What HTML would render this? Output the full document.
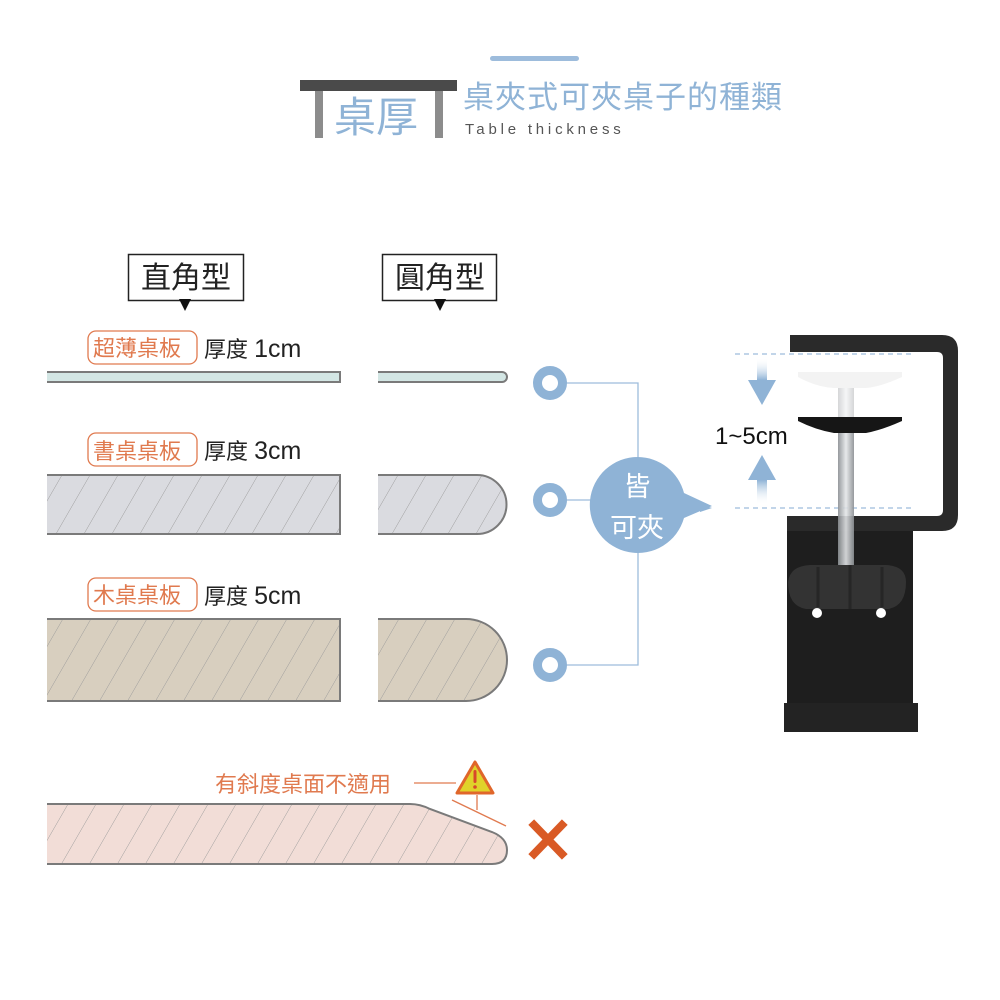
<!DOCTYPE html>
<html><head><meta charset="utf-8"><style>
html,body{margin:0;padding:0;background:#fff}
svg{display:block}
text{font-family:"Liberation Sans","Noto Sans CJK TC",sans-serif}
</style></head><body>
<svg width="1000" height="1000" viewBox="0 0 1000 1000" xmlns="http://www.w3.org/2000/svg">
<defs>
<pattern id="h" width="28" height="200" patternUnits="userSpaceOnUse" patternTransform="skewX(-30)">
<line x1="0" y1="0" x2="0" y2="200" stroke="#9a9a9a" stroke-width="1"/>
</pattern>
<linearGradient id="ad" x1="0" y1="0" x2="0" y2="1"><stop offset="0" stop-color="#fff" stop-opacity="0"/><stop offset="1" stop-color="#8fb3d6"/></linearGradient>
<linearGradient id="au" x1="0" y1="1" x2="0" y2="0"><stop offset="0" stop-color="#fff" stop-opacity="0"/><stop offset="1" stop-color="#8fb3d6"/></linearGradient>
<linearGradient id="sc" x1="0" y1="0" x2="1" y2="0"><stop offset="0" stop-color="#8a8e92"/><stop offset="0.5" stop-color="#e4e6e8"/><stop offset="1" stop-color="#8a8e92"/></linearGradient>
</defs>

<!-- header -->
<rect x="490" y="56" width="89" height="5" rx="2.5" fill="#9dbcdc"/>
<rect x="300" y="80" width="157" height="11" fill="#4a4a4a"/>
<rect x="315" y="91" width="8" height="47" fill="#8c8c8c"/>
<rect x="435" y="91" width="8" height="47" fill="#8c8c8c"/>
<text x="334" y="132" font-size="42" fill="#8fb3d6">桌厚</text>
<text x="463" y="108" font-size="31" fill="#8fb3d6" letter-spacing="1">桌夾式可夾桌子的種類</text>
<text x="465" y="134" font-size="15" fill="#555" letter-spacing="3.8">Table thickness</text>

<!-- type boxes -->
<rect x="128.5" y="254.5" width="115" height="46" fill="#fff" stroke="#222" stroke-width="1.5"/>
<text x="186" y="288" font-size="30" fill="#222" text-anchor="middle">直角型</text>
<polygon points="179,299 191,299 185,311" fill="#111"/>
<rect x="382.5" y="254.5" width="114" height="46" fill="#fff" stroke="#222" stroke-width="1.5"/>
<text x="440" y="288" font-size="30" fill="#222" text-anchor="middle">圓角型</text>
<polygon points="434,299 446,299 440,311" fill="#111"/>

<!-- labels -->
<g font-size="22">
<rect x="88" y="331" width="109" height="33" rx="8" fill="none" stroke="#e07a4f" stroke-width="1.3"/>
<text x="93" y="356" fill="#e07a4f">超薄桌板</text>
<text x="204" y="357" fill="#222">厚度 <tspan font-size="25">1cm</tspan></text>
<rect x="88" y="433" width="109" height="33" rx="8" fill="none" stroke="#e07a4f" stroke-width="1.3"/>
<text x="93" y="459" fill="#e07a4f">書桌桌板</text>
<text x="204" y="459" fill="#222">厚度 <tspan font-size="25">3cm</tspan></text>
<rect x="88" y="578" width="109" height="33" rx="8" fill="none" stroke="#e07a4f" stroke-width="1.3"/>
<text x="93" y="603" fill="#e07a4f">木桌桌板</text>
<text x="204" y="604" fill="#222">厚度 <tspan font-size="25">5cm</tspan></text>
</g>

<g stroke="#7a7a7a" stroke-width="2">
<path d="M47 372 H340 V382 H47" fill="#d3e6e4"/>
<path d="M378 372 H502 A5 5 0 0 1 502 382 H378" fill="#d3e6e4"/>
<path d="M47 475 H340 V534 H47 Z" fill="#dadbe0" stroke="none"/>
<path d="M47 475 H340 V534 H47 Z" fill="url(#h)" stroke="none"/>
<path d="M47 475 H340 V534 H47" fill="none"/>
<path d="M378 475 H477 A29.5 29.5 0 0 1 477 534 H378 Z" fill="#dadbe0" stroke="none"/>
<path d="M378 475 H477 A29.5 29.5 0 0 1 477 534 H378 Z" fill="url(#h)" stroke="none"/>
<path d="M378 475 H477 A29.5 29.5 0 0 1 477 534 H378" fill="none"/>
<path d="M47 619 H340 V701 H47 Z" fill="#d8cfbf" stroke="none"/>
<path d="M47 619 H340 V701 H47 Z" fill="url(#h)" stroke="none"/>
<path d="M47 619 H340 V701 H47" fill="none"/>
<path d="M378 619 H466 A41 41 0 0 1 466 701 H378 Z" fill="#d8cfbf" stroke="none"/>
<path d="M378 619 H466 A41 41 0 0 1 466 701 H378 Z" fill="url(#h)" stroke="none"/>
<path d="M378 619 H466 A41 41 0 0 1 466 701 H378" fill="none"/>
<path d="M47 804 H410 Q420 804 430 809 L492 832 Q507 838 507 850 Q507 864 492 864 H47 Z" fill="#f2ddd7" stroke="none"/>
<path d="M47 804 H410 Q420 804 430 809 L492 832 Q507 838 507 850 Q507 864 492 864 H47 Z" fill="url(#h)" stroke="none"/>
<path d="M47 804 H410 Q420 804 430 809 L492 832 Q507 838 507 850 Q507 864 492 864 H47" fill="none"/>
</g>

<!-- connectors -->
<g stroke="#9dbcdc" stroke-width="1.3" fill="none">
<path d="M560 383 H638 V665 H560"/>
<path d="M560 500 H600"/>
</g>
<g fill="#fff" stroke="#8fb3d6" stroke-width="9">
<circle cx="550" cy="383" r="12.5"/>
<circle cx="550" cy="500" r="12.5"/>
<circle cx="550" cy="665" r="12.5"/>
</g>
<path d="M638 457 A48 48 0 0 1 684 493 L712 506 L684 518 A48 48 0 1 1 638 457 Z" fill="#8fb3d6"/>
<text x="637" y="496" font-size="27" fill="#fff" text-anchor="middle">皆</text>
<text x="637" y="537" font-size="27" fill="#fff" text-anchor="middle">可夾</text>

<!-- warning -->
<text x="215" y="792" font-size="22" fill="#e07a4f">有斜度桌面不適用</text>
<line x1="414" y1="783" x2="456" y2="783" stroke="#e07a4f" stroke-width="1.3"/>
<line x1="477" y1="795" x2="477" y2="810" stroke="#e07a4f" stroke-width="1.3"/>
<line x1="452" y1="800" x2="506" y2="826" stroke="#e07a4f" stroke-width="1.3"/>
<path d="M475 762 L493 793 H457 Z" fill="#e0d22a" stroke="#e0662a" stroke-width="3" stroke-linejoin="round"/>
<rect x="473.5" y="770" width="3" height="13" rx="1.5" fill="#d8492a"/>
<circle cx="475" cy="787" r="1.8" fill="#d8492a"/>
<g stroke="#d95a25" stroke-width="8" stroke-linecap="square">
<line x1="534" y1="825" x2="562" y2="854"/>
<line x1="562" y1="825" x2="534" y2="854"/>
</g>

<!-- dashed guides -->
<g stroke="#9dbcdc" stroke-width="1.3" stroke-dasharray="5 4">
<line x1="735" y1="354" x2="915" y2="354"/>
<line x1="735" y1="508" x2="915" y2="508"/>
</g>
<polygon points="700,504 712,508 700,512" fill="#8fb3d6"/>
<rect x="757" y="358" width="10" height="22" fill="url(#ad)"/>
<polygon points="748,380 776,380 762,405" fill="#8fb3d6"/>
<polygon points="748,480 776,480 762,455" fill="#8fb3d6"/>
<rect x="757" y="480" width="10" height="25" fill="url(#au)"/>
<text x="715" y="444" font-size="24" fill="#111">1~5cm</text>

<!-- clamp -->
<g>
<path d="M790 335 H942 Q958 335 958 351 V515 Q958 531 942 531 H787 V516 H937 Q943 516 943 510 V358 Q943 352 937 352 H790 Z" fill="#2a2a2a"/>
<rect x="787" y="531" width="126" height="172" fill="#1e1e1e"/>
<path d="M784 703 H918 V732 H784 Z" fill="#232323"/>
<rect x="838" y="388" width="16" height="178" fill="url(#sc)" opacity="0.9"/>
<rect x="838" y="388" width="16" height="40" fill="#fff" opacity="0.6"/>
<path d="M798 372 H902 V377 Q880 387 866 388 H834 Q816 387 798 377 Z" fill="#f3f3f3"/>
<path d="M798 417 H902 V421 Q882 430 866 433 H834 Q816 430 798 421 Z" fill="#161616"/>
<path d="M788 582 Q790 566 810 565 H886 Q906 566 906 582 Q906 606 888 609 H806 Q788 606 788 582 Z" fill="#333"/>
<path d="M818 567 V607 M850 565 V609 M882 567 V607" stroke="#262626" stroke-width="3"/>
<circle cx="817" cy="613" r="5" fill="#fff"/>
<circle cx="881" cy="613" r="5" fill="#fff"/>
</g>
</svg>
</body></html>
